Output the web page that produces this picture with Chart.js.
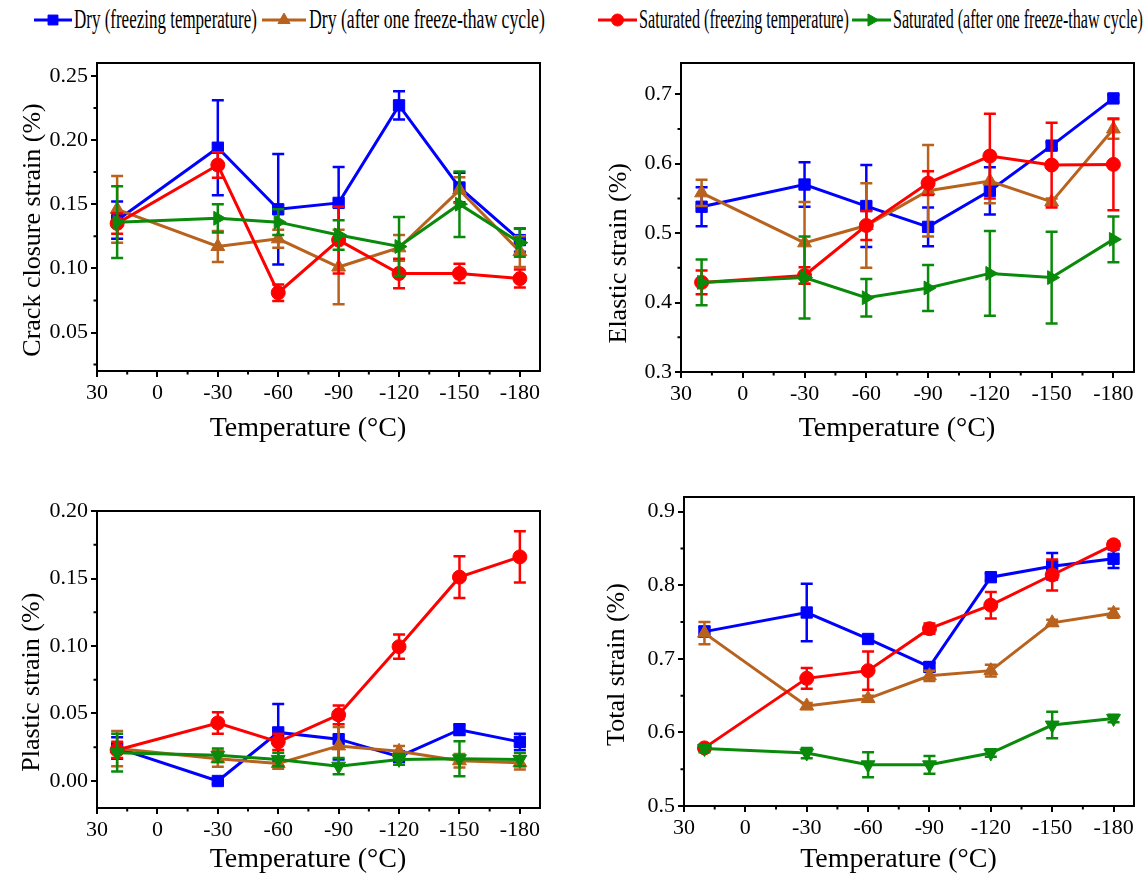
<!DOCTYPE html>
<html>
<head>
<meta charset="utf-8">
<script src="https://cdn.jsdelivr.net/npm/chart.js@4.4.0/dist/chart.umd.min.js"></script>
<style>
body{margin:0;background:#fff;width:1148px;height:880px;position:relative;overflow:hidden;font-family:'Liberation Serif',serif}
canvas{position:absolute}
.legtxt{position:absolute;top:4px;font-size:27px;line-height:30px;white-space:nowrap;transform-origin:0 50%;color:#000}
</style>
</head>
<body>
<canvas id="g1" width="574" height="420" style="left:0;top:40px"></canvas>
<canvas id="g2" width="574" height="420" style="left:574px;top:40px"></canvas>
<canvas id="g3" width="574" height="420" style="left:0;top:460px"></canvas>
<canvas id="g4" width="574" height="420" style="left:574px;top:460px"></canvas>
<script>
// temperaturas de ensayo (°C)
const temperaturas = [20, -30, -60, -90, -120, -150, -180];
const nombresSeries = ['Dry (freezing temperature)', 'Dry (after one freeze-thaw cycle)',
  'Saturated (freezing temperature)', 'Saturated (after one freeze-thaw cycle)'];

// Crack closure strain (%)
const cierreSecoCong = [0.1375, 0.194, 0.146, 0.151, 0.227, 0.163, 0.122];
const cierreSecoCong_err = [0.0145, 0.037, 0.043, 0.028, 0.011, 0.0115, 0.009];
const cierreSecoCiclo = [0.146, 0.117, 0.123, 0.101, 0.116, 0.161, 0.113];
const cierreSecoCiclo_err = [0.026, 0.012, 0.007, 0.029, 0.010, 0.010, 0.012];
const cierreSatCong = [0.135, 0.1805, 0.081, 0.122, 0.096, 0.096, 0.092];
const cierreSatCong_err = [0.008, 0.010, 0.0065, 0.026, 0.0115, 0.0075, 0.007];
const cierreSatCiclo = [0.136, 0.139, 0.136, 0.126, 0.117, 0.150, 0.120];
const cierreSatCiclo_err = [0.028, 0.011, 0.010, 0.0115, 0.023, 0.0255, 0.011];

// Elastic strain (%)
const elasSecoCong = [0.538, 0.570, 0.539, 0.509, 0.561, 0.626, 0.694];
const elasSecoCong_err = [0.028, 0.032, 0.059, 0.028, 0.034, 0.005, 0.005];
const elasSecoCiclo = [0.558, 0.486, 0.511, 0.561, 0.575, 0.545, 0.650];
const elasSecoCiclo_err = [0.019, 0.059, 0.061, 0.066, 0.032, 0.005, 0.014];
const elasSatCong = [0.429, 0.439, 0.511, 0.572, 0.611, 0.598, 0.599];
const elasSatCong_err = [0.017, 0.012, 0.021, 0.017, 0.061, 0.061, 0.066];
const elasSatCiclo = [0.429, 0.436, 0.407, 0.421, 0.442, 0.436, 0.491];
const elasSatCiclo_err = [0.033, 0.059, 0.027, 0.033, 0.061, 0.066, 0.033];

// Plastic strain (%)
const plasSecoCong = [0.0245, 0.000, 0.036, 0.031, 0.018, 0.038, 0.029];
const plasSecoCong_err = [0.008, 0.002, 0.021, 0.015, 0.004, 0.004, 0.006];
const plasSecoCiclo = [0.024, 0.0165, 0.013, 0.026, 0.022, 0.015, 0.0135];
const plasSecoCiclo_err = [0.013, 0.006, 0.004, 0.014, 0.004, 0.005, 0.005];
const plasSatCong = [0.023, 0.043, 0.029, 0.049, 0.0995, 0.151, 0.166];
const plasSatCong_err = [0.006, 0.008, 0.006, 0.007, 0.009, 0.0155, 0.019];
const plasSatCiclo = [0.021, 0.019, 0.016, 0.011, 0.016, 0.0165, 0.016];
const plasSatCiclo_err = [0.014, 0.005, 0.005, 0.006, 0.004, 0.013, 0.005];

// Total strain (%)
const totSecoCong = [0.737, 0.763, 0.727, 0.689, 0.811, 0.826, 0.836];
const totSecoCong_err = [0.007, 0.039, 0.004, 0.006, 0.005, 0.018, 0.0125];
const totSecoCiclo = [0.735, 0.636, 0.646, 0.677, 0.684, 0.749, 0.762];
const totSecoCiclo_err = [0.015, 0.004, 0.004, 0.007, 0.008, 0.004, 0.006];
const totSatCong = [0.579, 0.6735, 0.684, 0.741, 0.773, 0.814, 0.855];
const totSatCong_err = [0.004, 0.014, 0.026, 0.007, 0.018, 0.021, 0.005];
const totSatCiclo = [0.578, 0.572, 0.556, 0.556, 0.572, 0.610, 0.619];
const totSatCiclo_err = [0.005, 0.007, 0.017, 0.012, 0.005, 0.018, 0.005];

const colores = ['#0000FF', '#B8621E', '#FF0000', '#0A8A0A'];
const estilos = ['rect', 'triangle', 'circle', 'triangle'];
const radios = [8, 8, 7, 8];

Chart.defaults.font.family = "'Liberation Serif', serif";
Chart.defaults.color = '#000';

// barras de error, debajo de cada serie
const barrasError = {
  id: 'barrasError',
  beforeDatasetDraw(chart, args) {
    const ds = chart.data.datasets[args.index];
    if (!ds.errores) return;
    const ctx = chart.ctx;
    const ejeY = chart.scales.y;
    ctx.save();
    ctx.strokeStyle = ds.borderColor;
    ctx.lineWidth = 2.5;
    args.meta.data.forEach(function (p, i) {
      const v = ds.data[i].y;
      const e = ds.errores[i];
      const yA = ejeY.getPixelForValue(v + e);
      const yB = ejeY.getPixelForValue(v - e);
      ctx.beginPath();
      ctx.moveTo(p.x, yA); ctx.lineTo(p.x, yB);
      ctx.moveTo(p.x - 6, yA); ctx.lineTo(p.x + 6, yA);
      ctx.moveTo(p.x - 6, yB); ctx.lineTo(p.x + 6, yB);
      ctx.stroke();
    });
    ctx.restore();
  }
};

// marco y marcas menores
const marco = {
  id: 'marco',
  afterDraw(chart) {
    const ctx = chart.ctx;
    const a = chart.chartArea;
    ctx.save();
    ctx.strokeStyle = '#000';
    ctx.lineWidth = 2;
    ctx.strokeRect(a.left, a.top, a.right - a.left, a.bottom - a.top);
    const ex = chart.scales.x, ey = chart.scales.y;
    ctx.beginPath();
    ex.ticks.forEach(function (t, i) {
      if (t.label !== '') return;
      const px = ex.getPixelForTick(i);
      ctx.moveTo(px, a.bottom); ctx.lineTo(px, a.bottom + 3.5);
    });
    ey.ticks.forEach(function (t, i) {
      if (t.label !== '') return;
      const py = ey.getPixelForTick(i);
      ctx.moveTo(a.left, py); ctx.lineTo(a.left - 3.5, py);
    });
    ctx.stroke();
    ctx.restore();
  }
};

function puntos(valores) {
  return valores.map(function (v, i) { return {x: temperaturas[i], y: v}; });
}

function crearPanel(id, series, errores, yMin, yMax, yPaso, yMayor, dec, tituloY, rotVerde, caja) {
  const datasets = series.map(function (s, k) {
    return {
      label: nombresSeries[k],
      data: puntos(s),
      errores: errores[k],
      borderColor: colores[k],
      backgroundColor: colores[k],
      borderWidth: 3,
      pointStyle: estilos[k],
      pointRadius: radios[k],
      pointRotation: k == 3 ? rotVerde : 0,
      pointBorderWidth: 1,
      tension: 0,
      order: [4, 3, 2, 1][k]
    };
  });
  const marcaMenor = function (c) { return (c.tick && c.tick.label === '') ? 'rgba(0,0,0,0)' : '#000'; };
  return new Chart(document.getElementById(id), {
    type: 'line',
    data: {datasets: datasets},
    plugins: [barrasError, marco],
    options: {
      responsive: false,
      animation: false,
      layout: {padding: {top: caja.padTop, right: caja.padRight, left: 0, bottom: 0}},
      plugins: {legend: {display: false}, tooltip: {enabled: false}},
      scales: {
        x: {
          type: 'linear', min: -190, max: 30, reverse: true,
          afterFit: function (s) { s.height = caja.altoX; },
          ticks: {
            stepSize: 15, includeBounds: false, autoSkip: false, maxRotation: 0,
            font: {size: 22}, padding: 3,
            callback: function (v) { return v % 30 === 0 ? String(v) : ''; }
          },
          grid: {drawOnChartArea: false, tickLength: 6, lineWidth: 2, color: marcaMenor},
          border: {color: '#000', width: 2},
          // espacios al final para correr el titulo como en la figura
          title: {display: true, text: 'Temperature (°C)   ', font: {size: 28}, padding: {top: 0, bottom: caja.padTituloX}}
        },
        y: {
          min: yMin, max: yMax,
          afterFit: function (s) { s.width = caja.anchoY; },
          ticks: {
            stepSize: yPaso, includeBounds: false, autoSkip: false,
            font: {size: 22}, padding: 3,
            callback: function (v) {
              const r = v / yMayor;
              return Math.abs(r - Math.round(r)) < 1e-6 ? v.toFixed(dec) : '';
            }
          },
          grid: {drawOnChartArea: false, tickLength: 6, lineWidth: 2, color: marcaMenor},
          border: {color: '#000', width: 2},
          title: {display: true, text: tituloY + ' '.repeat(caja.espacios), font: {size: 26}, padding: {top: caja.padTituloY, bottom: 0}}
        }
      }
    }
  });
}

crearPanel('g1',
  [cierreSecoCong, cierreSecoCiclo, cierreSatCong, cierreSatCiclo],
  [cierreSecoCong_err, cierreSecoCiclo_err, cierreSatCong_err, cierreSatCiclo_err],
  0.02, 0.26, 0.025, 0.05, 2, 'Crack closure strain (%)', 90,
  {padTop: 23, padRight: 34, anchoY: 97, altoX: 89, padTituloX: 15, padTituloY: 18, espacios: 4});

crearPanel('g2',
  [elasSecoCong, elasSecoCiclo, elasSatCong, elasSatCiclo],
  [elasSecoCong_err, elasSecoCiclo_err, elasSatCong_err, elasSatCiclo_err],
  0.3, 0.745, 0.05, 0.1, 1, 'Elastic strain (%)', 90,
  {padTop: 23, padRight: 14, anchoY: 107, altoX: 88, padTituloX: 15, padTituloY: 30, espacios: 11});

crearPanel('g3',
  [plasSecoCong, plasSecoCiclo, plasSatCong, plasSatCiclo],
  [plasSecoCong_err, plasSecoCiclo_err, plasSatCong_err, plasSatCiclo_err],
  -0.02, 0.20, 0.025, 0.05, 2, 'Plastic strain (%)', 180,
  {padTop: 51, padRight: 34, anchoY: 97, altoX: 72, padTituloX: 4, padTituloY: 17, espacios: 7});

crearPanel('g4',
  [totSecoCong, totSecoCiclo, totSatCong, totSatCiclo],
  [totSecoCong_err, totSecoCiclo_err, totSatCong_err, totSatCiclo_err],
  0.5, 0.92, 0.05, 0.1, 1, 'Total strain (%)', 180,
  {padTop: 37, padRight: 14, anchoY: 110, altoX: 74, padTituloX: 4, padTituloY: 28, espacios: 4});

// leyenda arriba (texto estrecho como en la figura)
const leyendaPos = [
  {x0: 34, x1: 72, tx: 74, tw: 183},
  {x0: 262, x1: 306, tx: 309, tw: 236},
  {x0: 598, x1: 637, tx: 639, tw: 210},
  {x0: 852, x1: 891, tx: 893, tw: 250}
];
leyendaPos.forEach(function (p, k) {
  const c = document.createElement('canvas');
  c.width = p.x1 - p.x0; c.height = 40;
  c.style.left = p.x0 + 'px'; c.style.top = '0px';
  document.body.appendChild(c);
  const ctx = c.getContext('2d');
  ctx.strokeStyle = colores[k]; ctx.fillStyle = colores[k]; ctx.lineWidth = 3;
  ctx.beginPath(); ctx.moveTo(0, 20); ctx.lineTo(c.width, 20); ctx.stroke();
  ctx.lineWidth = 1;
  Chart.helpers.drawPoint(ctx, {pointStyle: estilos[k], radius: radios[k] - 1, rotation: k == 3 ? 90 : 0, borderWidth: 1}, c.width / 2, 20);
  const t = document.createElement('div');
  t.className = 'legtxt';
  t.textContent = nombresSeries[k];
  t.style.left = p.tx + 'px';
  document.body.appendChild(t);
  t.style.transform = 'scaleX(' + (p.tw / t.offsetWidth) + ')';
});
</script>
</body>
</html>
